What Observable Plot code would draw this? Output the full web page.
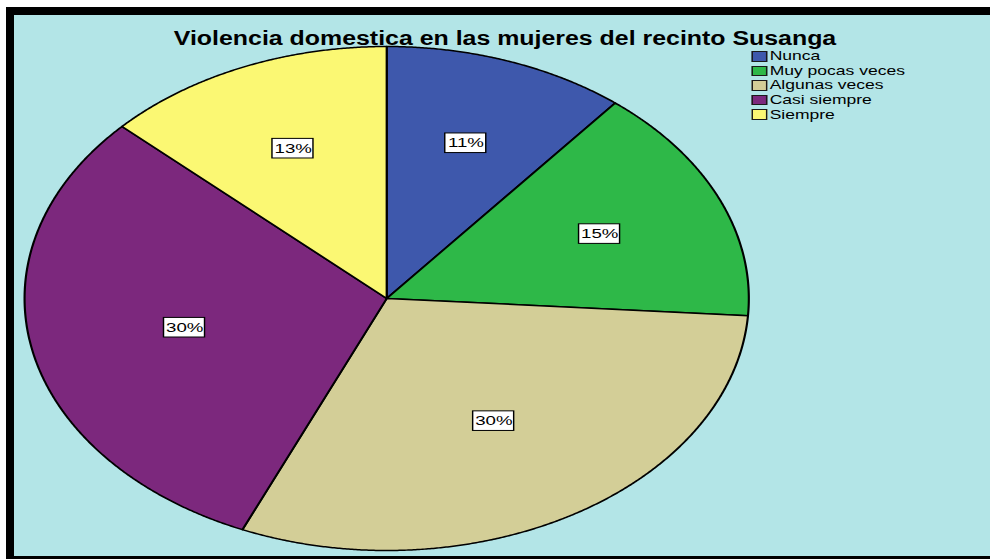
<!DOCTYPE html>
<html>
<head>
<meta charset="utf-8">
<script src="https://cdn.jsdelivr.net/npm/d3@7"></script>
<script src="https://cdn.jsdelivr.net/npm/@observablehq/plot@0.6"></script>
<style>
  html, body { margin: 0; padding: 0; background: #ffffff; width: 990px; height: 559px; overflow: hidden;
    font-family: "Liberation Sans", Arial, sans-serif; }
  #frame { position: absolute; left: 6px; top: 7px; width: 1000px; height: 541px;
    border-left: 8px solid #000; border-top: 8px solid #000; border-bottom: 3px solid #000;
    background: #b3e5e7; }
  #stretch { position: absolute; left: 0; top: 0; width: 689px; height: 559px;
    transform: scaleX(1.437); transform-origin: 0 0; }
  #chart { position: absolute; left: 0; top: 0; }
  #title { position: absolute; left: 504.5px; top: 28px; font-size: 20px; line-height: 20px;
    font-weight: bold; color: #000; white-space: nowrap;
    transform: translateX(-50%) scaleX(1.245); transform-origin: 50% 0; }
  .row { position: absolute; left: 522.6px; height: 12px; white-space: nowrap; }
  .sw { position: absolute; left: 0; top: 0; width: 9px; height: 8.5px; border: 0.8px solid #1a1a1a; }
  .lt { position: absolute; left: 13px; top: -0.8px; font-size: 12.2px; line-height: 12.2px; color: #000; }
</style>
</head>
<body>
<div id="frame"></div>
<div id="stretch">
  <div id="chart"></div>
  <div id="legend"></div>
</div>
<div id="title"></div>
<script>
const title = "Violencia domestica en las mujeres del recinto Susanga";
const categories = ["Nunca", "Muy pocas veces", "Algunas veces", "Casi siempre", "Siempre"];
const counts = [5, 7, 14, 14, 6];
const colors = ["#3e58ac", "#2eb848", "#d3ce97", "#7c287d", "#fbf873"];

const total = d3.sum(counts);
const arcs = d3.pie().sort(null).startAngle(0).endAngle(2 * Math.PI)(counts);

// slice outlines: centre + arc + centre
const outline = [];
arcs.forEach((a, i) => {
  const n = Math.max(2, Math.ceil((a.endAngle - a.startAngle) / 0.005));
  outline.push({cat: categories[i], x: 0, y: 0});
  for (let k = 0; k <= n; ++k) {
    const t = a.startAngle + (a.endAngle - a.startAngle) * k / n;
    outline.push({cat: categories[i], x: Math.sin(t), y: Math.cos(t)});
  }
});

// label positions at the slice centroid
const R = 252; // pixel radius (unstretched)
const bw = 41 / 1.437 / 2 / R, bh = 9.8 / R;
const labels = arcs.map((a, i) => {
  const half = (a.endAngle - a.startAngle) / 2;
  const mid = a.startAngle + half;
  const rc = 2 * Math.sin(half) / (3 * half);
  return {cat: categories[i], text: Math.round(counts[i] / total * 100) + "%",
          x: rc * Math.sin(mid), y: rc * Math.cos(mid)};
});

const chart = Plot.plot({
  width: 689,
  height: 559,
  marginLeft: 16.6,
  marginRight: 168.4,
  marginTop: 46,
  marginBottom: 9,
  style: {background: "transparent", overflow: "visible"},
  x: {domain: [-1, 1], axis: null},
  y: {domain: [-1, 1], axis: null},
  color: {domain: categories, range: colors},
  marks: [
    Plot.line(outline, {x: "x", y: "y", z: "cat", fill: "cat", stroke: "#000", strokeWidth: 1.5,
      strokeLinejoin: "round", curve: "linear-closed"}),
    Plot.rect(labels, {x1: d => d.x - bw, x2: d => d.x + bw, y1: d => d.y - bh, y2: d => d.y + bh,
      fill: "#fff", stroke: "#000", strokeWidth: 1}),
    Plot.text(labels, {x: "x", y: "y", text: "text", fontSize: 13, fill: "#000",
      fontFamily: "Liberation Sans, Arial, sans-serif"})
  ]
});
document.getElementById("chart").appendChild(chart);

document.getElementById("title").textContent = title;
const legend = document.getElementById("legend");
categories.forEach((c, i) => {
  const row = document.createElement("div");
  row.className = "row";
  row.style.top = (51 + 14.6 * i) + "px";
  const sw = document.createElement("div");
  sw.className = "sw";
  sw.style.background = colors[i];
  const lt = document.createElement("div");
  lt.className = "lt";
  lt.textContent = c;
  row.appendChild(sw);
  row.appendChild(lt);
  legend.appendChild(row);
});
</script>
</body>
</html>
